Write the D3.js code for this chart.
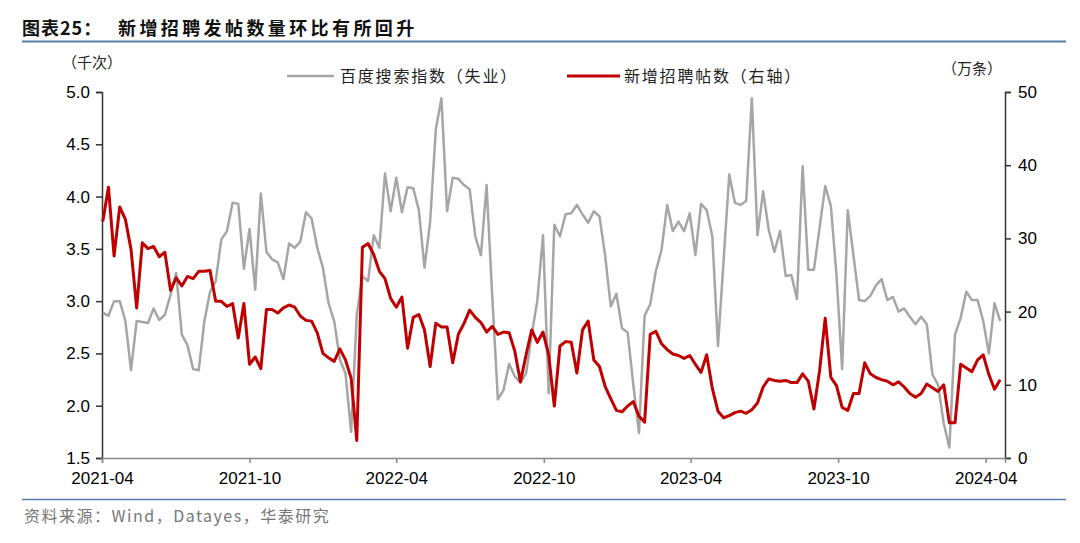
<!DOCTYPE html>
<html><head><meta charset="utf-8">
<script src="https://cdn.jsdelivr.net/npm/d3@7"></script>
<style>
body{margin:0;background:#fff;}
svg{display:block;}
</style></head>
<body>
<svg id="chart" width="1080" height="543"></svg>
<script>
// ---- data ----
const startDate = "2021-04-02"; // first weekly observation
const xTickLabels = ["2021-04","2021-10","2022-04","2022-10","2023-04","2023-10","2024-04"];
const leftTicks = [1.5,2.0,2.5,3.0,3.5,4.0,4.5,5.0];
const rightTicks = [0,10,20,30,40,50];
// 百度搜索指数（失业），千次
const baiduIndex = [
2.89,2.86,3.00,3.00,2.81,2.34,2.81,2.80,2.79,2.93,2.82,2.87,3.06,3.27,2.68,2.58,2.35,2.34,2.81,3.09,
3.19,3.59,3.67,3.94,3.93,3.31,3.69,3.11,4.03,3.47,3.40,3.37,3.21,3.55,3.51,3.57,3.85,3.79,3.51,3.32,
2.98,2.81,2.44,2.31,1.75,2.87,3.24,3.19,3.63,3.51,4.22,3.86,4.18,3.85,4.09,4.08,3.87,3.32,3.76,4.64,
4.94,3.86,4.18,4.17,4.11,4.07,3.62,3.44,4.11,3.05,2.06,2.15,2.40,2.28,2.22,2.31,2.68,3.01,3.63,2.12,
3.73,3.62,3.83,3.84,3.92,3.83,3.75,3.86,3.81,3.44,2.95,3.07,2.74,2.70,2.20,1.74,2.86,2.97,3.29,3.49,
3.92,3.67,3.76,3.67,3.84,3.44,3.93,3.87,3.62,2.57,3.39,4.21,3.94,3.92,3.96,4.94,3.63,4.05,3.68,3.47,
3.67,3.24,3.25,3.02,4.29,3.30,3.30,3.70,4.10,3.91,3.25,2.35,3.87,3.44,3.01,3.00,3.05,3.15,3.21,3.01,
3.04,2.90,2.93,2.85,2.78,2.85,2.78,2.30,2.20,1.83,1.60,2.68,2.84,3.09,3.01,3.01,2.81,2.50,2.98,2.81
];
// 新增招聘帖数（右轴），万条
const newPosts = [
32.3,37.0,27.6,34.3,32.6,28.5,20.5,29.4,28.6,28.9,27.5,28.1,22.9,24.6,23.5,24.8,24.5,25.5,25.5,25.6,
21.4,21.4,20.7,21.1,16.4,21.1,12.8,13.8,12.2,20.3,20.3,19.8,20.5,20.9,20.6,19.4,18.8,18.7,17.1,14.3,
13.7,13.2,14.9,13.4,10.9,2.4,28.8,29.3,27.8,25.5,24.5,21.8,20.6,22.0,15.0,19.2,19.6,17.5,12.5,18.4,
17.9,17.9,13.0,16.9,18.4,20.2,19.2,18.5,17.2,18.0,16.9,17.2,17.1,14.6,10.4,14.1,17.5,15.8,17.2,14.1,
7.1,15.3,15.9,15.8,11.6,17.5,18.7,13.4,12.5,9.8,8.1,6.5,6.3,7.1,7.7,5.7,4.9,16.9,17.3,15.6,
14.8,14.2,14.0,13.6,14.0,12.8,11.7,14.1,9.5,6.4,5.5,5.8,6.2,6.4,6.1,6.6,7.5,9.7,10.8,10.6,
10.5,10.6,10.3,10.3,11.5,10.5,6.7,11.9,19.1,11.0,9.9,6.9,6.5,8.8,8.8,13.0,11.5,11.0,10.7,10.5,
10.0,10.4,9.7,8.8,8.3,8.8,10.1,9.6,9.1,10.0,4.8,4.8,12.8,12.3,11.8,13.4,14.1,11.4,9.4,10.7
];
const seriesNames = ["百度搜索指数（失业）","新增招聘帖数（右轴）"];
const titleHead = "图表25：";
const titleBody = "新增招聘发帖数量环比有所回升";
const source = "资料来源：Wind，Datayes，华泰研究";

// ---- drawing ----
const svg = d3.select("#chart");
const L = 102, R = 1005, T = 92, B = 458;
const parse = d3.timeParse("%Y-%m-%d");
const parseM = d3.timeParse("%Y-%m");
const d0 = parse(startDate);
const dates = baiduIndex.map((_, i) => d3.timeDay.offset(d0, 7 * i));

const x = d3.scaleTime().domain([parseM("2021-04"), parse("2024-04-25")]).range([L, R]);
const yL = d3.scaleLinear().domain([1.5, 5.0]).range([B, T]);
const yR = d3.scaleLinear().domain([0, 50]).range([B, T]);

const cjk = "'Noto Sans CJK SC', sans-serif";
const num = "'Liberation Sans', Arial, sans-serif";

// title
svg.append("text").attr("x", 22).attr("y", 35)
  .attr("font-family", cjk).attr("font-weight", 700).attr("font-size", 18)
  .attr("letter-spacing", 1).attr("fill", "#111").text(titleHead);
svg.append("text").attr("x", 118).attr("y", 35)
  .attr("font-family", cjk).attr("font-weight", 700).attr("font-size", 18)
  .attr("letter-spacing", 3.4).attr("fill", "#111").text(titleBody);
svg.append("line").attr("x1", 22).attr("x2", 1066).attr("y1", 41.5).attr("y2", 41.5)
  .attr("stroke", "#5a7fa8").attr("stroke-width", 2);

// unit labels
svg.append("text").attr("x", 62).attr("y", 68).attr("font-family", cjk).attr("font-size", 15)
  .attr("fill", "#222").text("（千次）");
svg.append("text").attr("x", 942).attr("y", 74).attr("font-family", cjk).attr("font-size", 15)
  .attr("fill", "#222").text("（万条）");

// axes
const axL = svg.append("g").attr("transform", `translate(${L},0)`)
  .call(d3.axisLeft(yL).tickValues(leftTicks).tickFormat(d3.format(".1f")).tickSize(6).tickPadding(6));
const axR = svg.append("g").attr("transform", `translate(${R},0)`)
  .call(d3.axisRight(yR).tickValues(rightTicks).tickSize(6).tickPadding(7));
const axB = svg.append("g").attr("transform", `translate(0,${B})`)
  .call(d3.axisBottom(x).tickValues(xTickLabels.map(parseM)).tickFormat(d3.timeFormat("%Y-%m")).tickSize(5).tickPadding(9));
[axL, axR].forEach(g => {
  g.select(".domain").attr("stroke", "#333").attr("stroke-width", 1.5);
  g.selectAll(".tick line").attr("stroke", "#333").attr("stroke-width", 1.5);
});
axB.select(".domain").attr("stroke", "#888").attr("stroke-width", 1.5);
axB.selectAll(".tick line").attr("stroke", "#888").attr("stroke-width", 1.5);
[axL, axR, axB].forEach(g => g.selectAll("text").attr("font-family", num).attr("font-size", 17).attr("fill", "#000"));

// lines
const lineL = d3.line().x((d, i) => x(dates[i])).y(d => yL(d));
const lineR = d3.line().x((d, i) => x(dates[i])).y(d => yR(d));
svg.append("path").datum(baiduIndex).attr("d", lineL).attr("fill", "none")
  .attr("stroke", "#a6a6a6").attr("stroke-width", 2.5).attr("stroke-linejoin", "round");
svg.append("path").datum(newPosts).attr("d", lineR).attr("fill", "none")
  .attr("stroke", "#c00000").attr("stroke-width", 3).attr("stroke-linejoin", "round");

// legend
const lg = svg.append("g").attr("font-family", cjk).attr("font-size", 16).attr("fill", "#222").attr("letter-spacing", 1.8);
lg.append("line").attr("x1", 287).attr("x2", 334).attr("y1", 76).attr("y2", 76).attr("stroke", "#a6a6a6").attr("stroke-width", 2.5);
lg.append("text").attr("x", 340).attr("y", 81.5).text(seriesNames[0]);
lg.append("line").attr("x1", 567).attr("x2", 620).attr("y1", 76).attr("y2", 76).attr("stroke", "#c00000").attr("stroke-width", 3);
lg.append("text").attr("x", 624).attr("y", 81.5).text(seriesNames[1]);

// bottom rule & source
svg.append("line").attr("x1", 22).attr("x2", 1066).attr("y1", 499.5).attr("y2", 499.5)
  .attr("stroke", "#5a7fa8").attr("stroke-width", 1.5);
svg.append("text").attr("x", 24).attr("y", 522).attr("font-family", cjk).attr("font-size", 16)
  .attr("letter-spacing", 1.5).attr("fill", "#777").text(source);
</script>
</body></html>
